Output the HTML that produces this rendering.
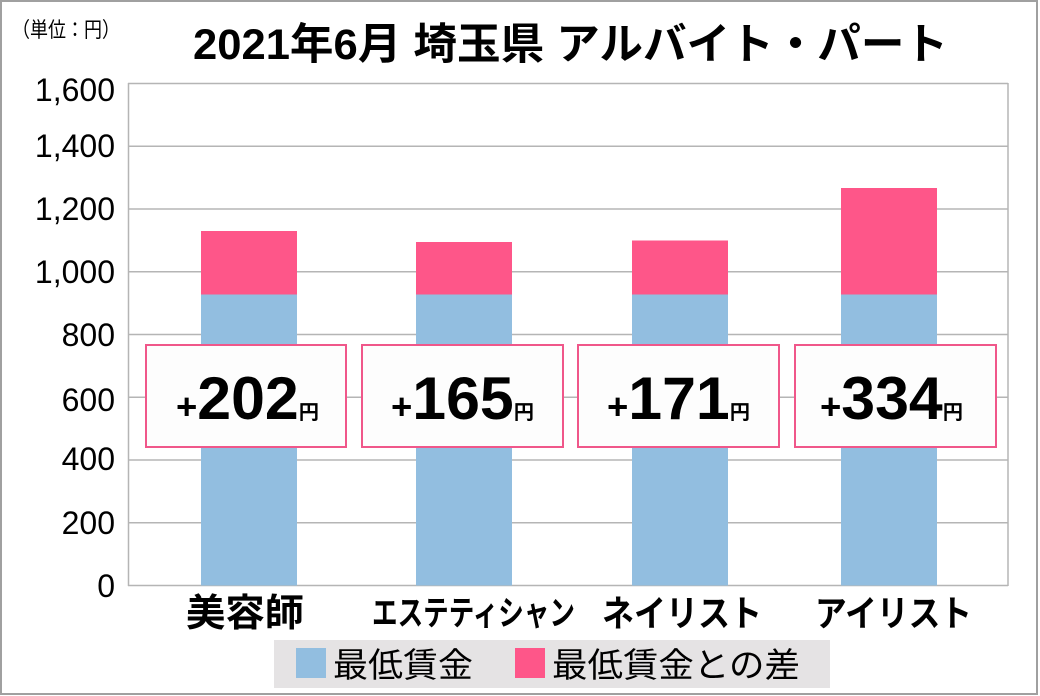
<!DOCTYPE html>
<html><head><meta charset="utf-8"><style>
html,body{margin:0;padding:0;background:#fff;}
svg{display:block;font-family:"Liberation Sans","Noto Sans CJK JP",sans-serif;}
</style></head><body>
<svg width="1040" height="696" viewBox="0 0 1040 696" xmlns="http://www.w3.org/2000/svg">
<rect x="1" y="1" width="1036" height="693" fill="#fff" stroke="#a0a0a0" stroke-width="2"/>
<text x="12" y="37" font-size="21" fill="#000" textLength="108" lengthAdjust="spacingAndGlyphs">（単位：円）</text>
<text x="193" y="59" font-size="43" font-weight="bold" fill="#000" textLength="755" lengthAdjust="spacingAndGlyphs">2021年6月 埼玉県 アルバイト・パート</text>
<g stroke="#b5b5b5" stroke-width="1.5">
<line x1="128" y1="83.5" x2="1008" y2="83.5"/>
<line x1="128" y1="146.25" x2="1008" y2="146.25"/>
<line x1="128" y1="209" x2="1008" y2="209"/>
<line x1="128" y1="271.75" x2="1008" y2="271.75"/>
<line x1="128" y1="334.5" x2="1008" y2="334.5"/>
<line x1="128" y1="397.25" x2="1008" y2="397.25"/>
<line x1="128" y1="460" x2="1008" y2="460"/>
<line x1="128" y1="522.75" x2="1008" y2="522.75"/>
<line x1="128" y1="585.5" x2="1008" y2="585.5"/>
<line x1="128.5" y1="83" x2="128.5" y2="586"/>
<line x1="1008" y1="83" x2="1008" y2="586"/>
</g>
<g font-size="32" text-anchor="end" fill="#000">
<text x="115" y="101">1,600</text>
<text x="115" y="157">1,400</text>
<text x="115" y="220">1,200</text>
<text x="115" y="283">1,000</text>
<text x="115" y="346">800</text>
<text x="115" y="411">600</text>
<text x="115" y="470">400</text>
<text x="115" y="534">200</text>
<text x="115" y="597">0</text>
</g>
<g fill="#92bee0">
<rect x="201" y="294.5" width="96" height="291"/>
<rect x="416" y="294.5" width="96" height="291"/>
<rect x="632" y="294.5" width="96" height="291"/>
<rect x="841" y="294.5" width="96" height="291"/>
</g>
<g fill="#fe5689">
<rect x="201" y="231" width="96" height="63.5"/>
<rect x="416" y="242" width="96" height="52.5"/>
<rect x="632" y="240.5" width="96" height="54"/>
<rect x="841" y="188" width="96" height="106.5"/>
</g>
<g fill="#fdfdfd" stroke="#f0578a" stroke-width="2">
<rect x="146" y="345" width="200" height="102"/>
<rect x="362" y="345" width="201" height="102"/>
<rect x="578" y="345" width="201" height="102"/>
<rect x="795" y="345" width="201" height="102"/>
</g>
<g font-weight="bold" fill="#000">
<text x="176" y="419" font-size="36" textLength="143" lengthAdjust="spacingAndGlyphs">+<tspan font-size="60">202</tspan><tspan font-size="20">円</tspan></text>
<text x="391" y="419" font-size="36" textLength="143" lengthAdjust="spacingAndGlyphs">+<tspan font-size="60">165</tspan><tspan font-size="20">円</tspan></text>
<text x="607" y="419" font-size="36" textLength="143" lengthAdjust="spacingAndGlyphs">+<tspan font-size="60">171</tspan><tspan font-size="20">円</tspan></text>
<text x="820" y="419" font-size="36" textLength="143" lengthAdjust="spacingAndGlyphs">+<tspan font-size="60">334</tspan><tspan font-size="20">円</tspan></text>
</g>
<g font-weight="bold" fill="#000">
<text x="186" y="626" font-size="38" textLength="118" lengthAdjust="spacingAndGlyphs">美容師</text>
<text x="372" y="625" font-size="34" textLength="203" lengthAdjust="spacingAndGlyphs">エステティシャン</text>
<text x="602" y="626" font-size="36" textLength="160" lengthAdjust="spacingAndGlyphs">ネイリスト</text>
<text x="815" y="626" font-size="36" textLength="157" lengthAdjust="spacingAndGlyphs">アイリスト</text>
</g>
<rect x="274" y="640" width="556" height="48" fill="#e5e3e4"/>
<rect x="296" y="648" width="30" height="30" fill="#92bee0"/>
<rect x="515" y="648" width="30" height="30" fill="#fe5689"/>
<g font-size="34" fill="#000">
<text x="333" y="677" textLength="140" lengthAdjust="spacingAndGlyphs">最低賃金</text>
<text x="552" y="677" textLength="248" lengthAdjust="spacingAndGlyphs">最低賃金との差</text>
</g>
</svg>
</body></html>
